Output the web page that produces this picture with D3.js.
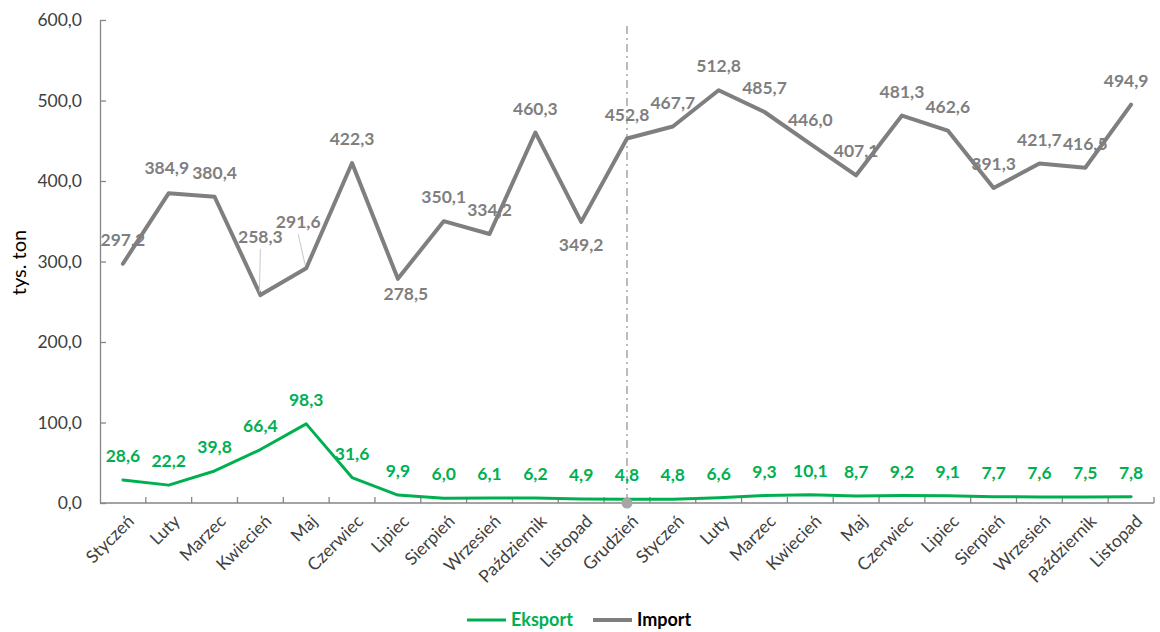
<!DOCTYPE html>
<html lang="pl">
<head>
<meta charset="utf-8">
<title>Eksport i import (tys. ton)</title>
<script src="https://cdn.jsdelivr.net/npm/d3@7"></script>
<style>
  html, body { margin: 0; padding: 0; background: #ffffff; }
  svg { display: block; font-family: Lato, "Open Sans", "Noto Sans", sans-serif; }
</style>
</head>
<body>
<svg id="chart" width="1160" height="632"></svg>
<script>
// Month labels along the category axis (two consecutive years)
const months = ["Styczeń", "Luty", "Marzec", "Kwiecień", "Maj", "Czerwiec", "Lipiec",
  "Sierpień", "Wrzesień", "Październik", "Listopad", "Grudzień",
  "Styczeń", "Luty", "Marzec", "Kwiecień", "Maj", "Czerwiec", "Lipiec",
  "Sierpień", "Wrzesień", "Październik", "Listopad"];

// Export volumes, thousand tonnes
const eksport = [28.6, 22.2, 39.8, 66.4, 98.3, 31.6, 9.9, 6.0, 6.1, 6.2, 4.9, 4.8,
  4.8, 6.6, 9.3, 10.1, 8.7, 9.2, 9.1, 7.7, 7.6, 7.5, 7.8];

// Import volumes, thousand tonnes
const importVals = [297.2, 384.9, 380.4, 258.3, 291.6, 422.3, 278.5, 350.1, 334.2, 460.3, 349.2, 452.8,
  467.7, 512.8, 485.7, 446.0, 407.1, 481.3, 462.6, 391.3, 421.7, 416.5, 494.9];

// Value axis ticks
const yTicks = [0, 100, 200, 300, 400, 500, 600];

// Index of the month where the year boundary marker is drawn
const markerIndex = 11;

// Label placement tweaks for import values that would collide with the line
const importLabelTweaks = {
  3: { dx: 0, dy: -58, leader: true },
  4: { dx: -8, dy: -46, leader: true },
  6: { dx: 8, dy: 15 },
  10: { dx: 0, dy: 23 },
  1: { dx: -2, dy: -25 },
  22: { dx: -5, dy: -24 }
};

const svg = d3.select("#chart");
const plot = { left: 100, right: 1154, top: 20, bottom: 503 };

const idx = months.map((_, i) => i);
const x = d3.scalePoint().domain(idx).range([plot.left, plot.right]).padding(0.5);
const step = x.step();
const y = d3.scaleLinear().domain([0, 600]).range([plot.bottom, plot.top]);

const fmt = v => d3.format(".1f")(v).replace(".", ",");

const GREEN = "#00b050";
const GREY = "#7f7f7f";
const AXIS = "#868686";
const TEXT = "#404040";

// Y axis
const yAxis = svg.append("g")
  .attr("transform", `translate(${plot.left},0)`)
  .call(d3.axisLeft(y).tickValues(yTicks).tickFormat(fmt).tickSizeInner(-6).tickSizeOuter(0).tickPadding(18));
yAxis.select(".domain").attr("stroke", AXIS).attr("stroke-width", 1.3);
yAxis.selectAll(".tick line").attr("stroke", AXIS).attr("stroke-width", 1.3);
yAxis.selectAll(".tick text").attr("fill", TEXT).style("font-size", "17.5px")
  .style("font-family", "Lato, sans-serif");

// Y axis title
svg.append("text")
  .attr("transform", `translate(26,${(plot.top + plot.bottom) / 2 + 1}) rotate(-90)`)
  .attr("text-anchor", "middle")
  .attr("fill", "#000")
  .style("font-size", "20px")
  .text("tys. ton");

// X axis: baseline, boundary ticks and rotated month labels
const boundaries = d3.range(1, months.length + 1).map(k => plot.left + k * step);
const xAxis = svg.append("g");
xAxis.append("line")
  .attr("x1", plot.left).attr("x2", plot.right).attr("y1", plot.bottom).attr("y2", plot.bottom)
  .attr("stroke", AXIS).attr("stroke-width", 1.3);
xAxis.selectAll("line.tick").data(boundaries).join("line")
  .attr("class", "tick")
  .attr("x1", d => d).attr("x2", d => d)
  .attr("y1", plot.bottom).attr("y2", plot.bottom - 6)
  .attr("stroke", AXIS).attr("stroke-width", 1.3);
xAxis.selectAll("text").data(idx).join("text")
  .attr("transform", d => `translate(${x(d) + 8},${plot.bottom + 15}) rotate(-45)`)
  .attr("text-anchor", "end")
  .attr("dy", "0.35em")
  .attr("fill", TEXT)
  .style("font-size", "17.5px")
  .text(d => months[d]);

// Year boundary: dash-dot vertical line with a dot on the axis
svg.append("line")
  .attr("x1", x(markerIndex)).attr("x2", x(markerIndex))
  .attr("y1", plot.top + 6).attr("y2", plot.bottom)
  .attr("stroke", "#a6a6a6").attr("stroke-width", 1.5)
  .attr("stroke-dasharray", "8,4,2,4");

// Lines
const line = vals => d3.line()
  .x((d, i) => x(i))
  .y(d => y(d))(vals);

svg.append("path")
  .attr("d", line(importVals))
  .attr("fill", "none").attr("stroke", GREY).attr("stroke-width", 4)
  .attr("stroke-linejoin", "round").attr("stroke-linecap", "round");

svg.append("path")
  .attr("d", line(eksport))
  .attr("fill", "none").attr("stroke", GREEN).attr("stroke-width", 3)
  .attr("stroke-linejoin", "round").attr("stroke-linecap", "round");

svg.append("circle")
  .attr("cx", x(markerIndex)).attr("cy", y(0)).attr("r", 5.5)
  .attr("fill", "#a6a6a6");

// Leader lines for import labels moved away from their points
Object.entries(importLabelTweaks).forEach(([k, t]) => {
  if (!t.leader) return;
  const i = +k;
  const px = x(i), py = y(importVals[i]);
  svg.append("line")
    .attr("x1", px + t.dx).attr("y1", py + t.dy + 12)
    .attr("x2", px - 1).attr("y2", py - 3)
    .attr("stroke", "#c8c8c8").attr("stroke-width", 1);
});

// Import value labels
svg.append("g").selectAll("text").data(importVals).join("text")
  .attr("x", (d, i) => x(i) + ((importLabelTweaks[i] || {}).dx || 0))
  .attr("y", (d, i) => y(d) + ((importLabelTweaks[i] || {}).dy ?? -24))
  .attr("dy", "0.35em")
  .attr("text-anchor", "middle")
  .attr("fill", GREY)
  .style("font-size", "17.5px").style("font-weight", "bold")
  .text(d => fmt(d));

// Export value labels
svg.append("g").selectAll("text").data(eksport).join("text")
  .attr("x", (d, i) => x(i))
  .attr("y", d => y(d) - 24)
  .attr("dy", "0.35em")
  .attr("text-anchor", "middle")
  .attr("fill", GREEN)
  .style("font-size", "17.5px").style("font-weight", "bold")
  .text(d => fmt(d));

// Legend
const legend = svg.append("g").attr("transform", "translate(0,620)");
const legendItems = [
  { name: "Eksport", color: GREEN, text: GREEN, x: 467, w: 3 },
  { name: "Import", color: GREY, text: "#000", x: 593, w: 4 }
];
legendItems.forEach(it => {
  legend.append("line")
    .attr("x1", it.x).attr("x2", it.x + 39).attr("y1", 0).attr("y2", 0)
    .attr("stroke", it.color).attr("stroke-width", it.w);
  legend.append("text")
    .attr("x", it.x + 44).attr("y", 0).attr("dy", "0.35em")
    .attr("fill", it.text)
    .style("font-size", "18px").style("font-weight", "bold")
    .text(it.name);
});
</script>
</body>
</html>
